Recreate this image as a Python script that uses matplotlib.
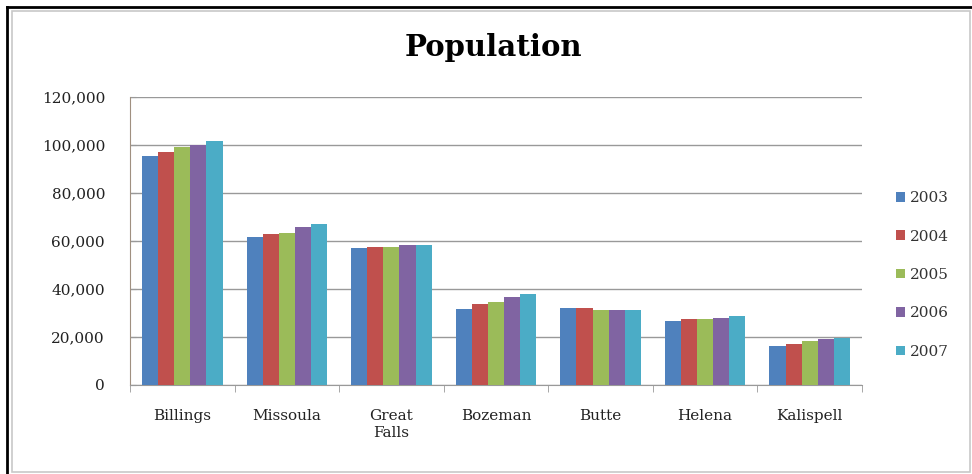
import numpy as np
import matplotlib
matplotlib.use("Agg")
import matplotlib.pyplot as plt
from matplotlib.ticker import FuncFormatter
from matplotlib.patches import Rectangle

plt.rcParams["font.family"] = ["DejaVu Serif"]

cities = ["Billings", "Missoula", "Great\nFalls", "Bozeman", "Butte", "Helena", "Kalispell"]
years = ["2003", "2004", "2005", "2006", "2007"]
pop_2003 = [95400, 61500, 57000, 31500, 32000, 26700, 16400]
pop_2004 = [97200, 62800, 57500, 33600, 32000, 27400, 17000]
pop_2005 = [99000, 63500, 57700, 34600, 31300, 27400, 18300]
pop_2006 = [100000, 65700, 58200, 36800, 31300, 27800, 19200]
pop_2007 = [101500, 67000, 58400, 37800, 31300, 28600, 19700]
series = [pop_2003, pop_2004, pop_2005, pop_2006, pop_2007]
colors = ["#4F81BD", "#C0504D", "#9BBB59", "#8064A2", "#4BACC6"]

fig = plt.figure(figsize=(9.72, 4.74), dpi=100)
ax = fig.add_axes([130/972, 1-385/474, 732/972, 288/474])

x = np.arange(len(cities)) + 0.5
w = 0.77 / len(years)
for k, (vals, c, yr) in enumerate(zip(series, colors, years)):
    ax.bar(x + (k - 2) * w, vals, w, color=c, label=yr, zorder=3)

ax.set_xlim(0, len(cities))
ax.set_ylim(0, 120000)
ax.set_yticks(range(0, 120001, 20000))
ax.yaxis.set_major_formatter(FuncFormatter(lambda v, p: f"{int(v):,}"))
ax.set_xticks(x)
ax.set_xticklabels(cities, fontsize=11, color="#222222", linespacing=1.35)
ax.tick_params(axis="y", labelsize=11, colors="#222222", length=4, color="#999999",
               direction="in", pad=18)
ax.tick_params(axis="x", length=0, pad=17)
ax.set_xticks(np.arange(len(cities) + 1), minor=True)
ax.tick_params(axis="x", which="minor", length=5, color="#999999")
ax.yaxis.grid(True, color="#999999", lw=1, zorder=0)
for s in ["top", "right"]:
    ax.spines[s].set_visible(False)
ax.spines["left"].set_color("#a09080")
ax.spines["bottom"].set_color("#999999")

fig.text(493/972, 1-48/474, "Population", ha="center", va="center", fontsize=21, fontweight="bold")

leg = fig.legend(loc="center left", bbox_to_anchor=(882/972, 1-275/474), frameon=False,
                 fontsize=11, handlelength=0.6, handleheight=0.6, handletextpad=0.3, labelspacing=1.6)
for t in leg.get_texts():
    t.set_color("#333333")

# chart frame: grey inner border, dark edge along left and top
fig.patches.append(Rectangle((12/972, 2/474), 958/972, 1-13/474, transform=fig.transFigure,
                             fill=False, ec="#c8c8c8", lw=1.2))
fig.add_artist(plt.Line2D([7/972, 7/972], [0, 1-7/474], transform=fig.transFigure, color="black", lw=2))
fig.add_artist(plt.Line2D([7/972, 1], [1-7/474, 1-7/474], transform=fig.transFigure, color="black", lw=2))

fig.savefig("out.png", dpi=100)
